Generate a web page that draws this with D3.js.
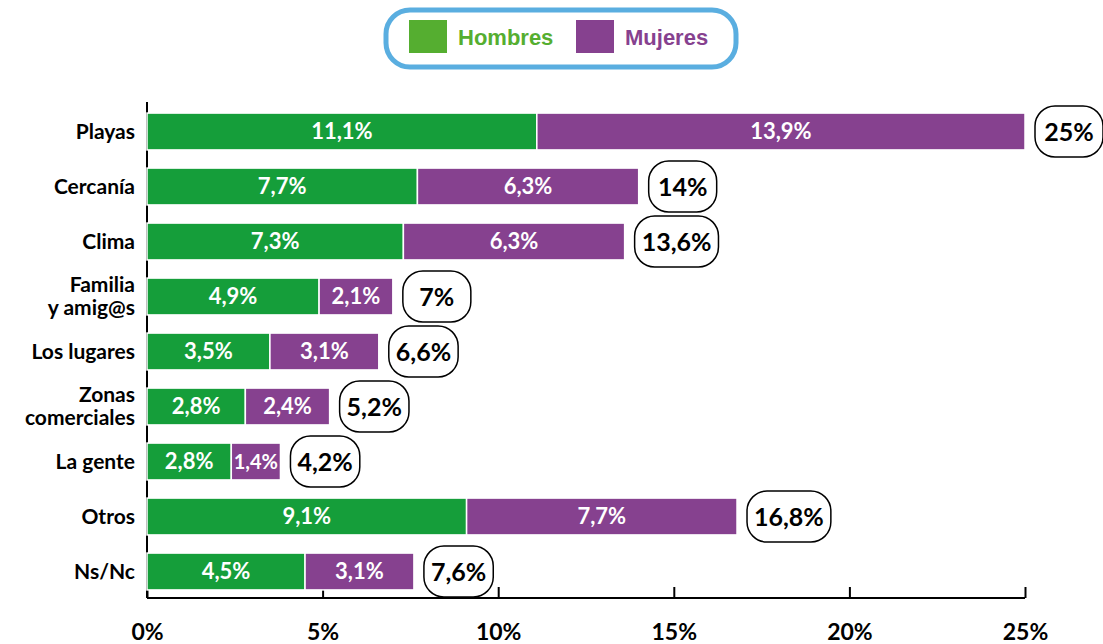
<!DOCTYPE html>
<html><head><meta charset="utf-8">
<script src="https://cdn.jsdelivr.net/npm/d3@7"></script>
<style>body{margin:0;background:#fff}svg{display:block}</style>
</head><body>
<svg id="chart" width="1103" height="644"></svg>
<script>
const categories = ["Playas","Cercanía","Clima","Familia\ny amig@s","Los lugares","Zonas\ncomerciales","La gente","Otros","Ns/Nc"];
// bar lengths as drawn in the picture
const hombres = [11.1,7.7,7.3,4.9,3.5,2.8,2.4,9.1,4.5];
const mujeres = [13.9,6.3,6.3,2.1,3.1,2.4,1.4,7.7,3.1];
// printed value labels
const hombresLabels = ["11,1%","7,7%","7,3%","4,9%","3,5%","2,8%","2,8%","9,1%","4,5%"];
const mujeresLabels = ["13,9%","6,3%","6,3%","2,1%","3,1%","2,4%","1,4%","7,7%","3,1%"];
const totals = ["25%","14%","13,6%","7%","6,6%","5,2%","4,2%","16,8%","7,6%"];
const xTicks = [0,5,10,15,20,25];
const seriesNames = ["Hombres","Mujeres"];

const svg = d3.select("#chart");
const FONT = "Lato, 'Open Sans', sans-serif";
const barGreen = "#159E3A", barPurple = "#86418F", legGreen = "#55AE30";

const x = d3.scaleLinear().domain([0,25]).range([147,1025]);
const y = d3.scaleBand().domain(categories).range([104,599]).paddingInner(0.33).paddingOuter(0.165);

// y axis line (behind bars)
svg.append("line").attr("x1",x(0)).attr("x2",x(0)).attr("y1",102).attr("y2",598)
  .attr("stroke","#000").attr("stroke-width",2);

// x axis
const xAxis = d3.axisBottom(x).tickValues(xTicks).tickSize(-11).tickPadding(0).tickFormat(d=>d+"%");
const gx = svg.append("g").attr("transform","translate(0,598)").call(xAxis);
gx.select(".domain").attr("stroke","#000").attr("stroke-width",2).attr("d",`M${x(0)},0H${x(25)}`);
gx.selectAll(".tick line").attr("stroke","#000").attr("stroke-width",2);
gx.selectAll(".tick text").attr("y",34).attr("dy","0.35em").attr("font-family",FONT)
  .attr("font-weight","bold").attr("font-size",23).attr("fill","#000");

function fitText(t, maxW, size){
  let s = size;
  t.attr("font-size", s);
  while (t.node().getComputedTextLength() > maxW && s > 10){ s -= 0.5; t.attr("font-size", s); }
}

// bars
const rows = categories.map((c,i)=>({c,h:hombres[i],m:mujeres[i],hl:hombresLabels[i],ml:mujeresLabels[i],t:totals[i]}));
const g = svg.append("g");
rows.forEach(r=>{
  const yy = y(r.c), bh = y.bandwidth();
  g.append("rect").attr("x",x(0)).attr("y",yy).attr("width",x(r.h)-x(0)).attr("height",bh)
    .attr("fill",barGreen).attr("stroke","#fff").attr("stroke-width",1.5);
  g.append("rect").attr("x",x(r.h)).attr("y",yy).attr("width",x(r.h+r.m)-x(r.h)).attr("height",bh)
    .attr("fill",barPurple).attr("stroke","#fff").attr("stroke-width",1.5);
  const ht = g.append("text").attr("x",(x(0)+x(r.h))/2).attr("y",yy+bh/2).attr("dy","0.36em")
    .attr("text-anchor","middle").attr("fill","#fff").attr("font-family",FONT).attr("font-weight","bold").text(r.hl);
  fitText(ht, x(r.h)-x(0)-4, 22);
  const mt = g.append("text").attr("x",(x(r.h)+x(r.h+r.m))/2).attr("y",yy+bh/2).attr("dy","0.36em")
    .attr("text-anchor","middle").attr("fill","#fff").attr("font-family",FONT).attr("font-weight","bold").text(r.ml);
  fitText(mt, x(r.h+r.m)-x(r.h)-4, 22);
  // total bubble
  const t = g.append("text").attr("y",yy+bh/2).attr("dy","0.36em").attr("text-anchor","middle")
    .attr("fill","#000").attr("font-family",FONT).attr("font-weight","bold").attr("font-size",25).text(r.t);
  const tw = t.node().getComputedTextLength();
  const bw = Math.max(68, tw+14), bhh = 51;
  const bx = x(r.h+r.m)+10;
  g.insert("rect", () => t.node()).attr("x",bx).attr("y",yy+bh/2-bhh/2).attr("width",bw).attr("height",bhh)
    .attr("rx",20).attr("ry",20).attr("fill","#fff").attr("stroke","#000").attr("stroke-width",1.5);
  t.attr("x",bx+bw/2);
  // category label
  const lines = r.c.split("\n");
  const lt = svg.append("text").attr("x",135).attr("text-anchor","end").attr("font-family",FONT)
    .attr("font-weight","bold").attr("font-size",21).attr("fill","#000");
  lines.forEach((ln,k)=>{
    lt.append("tspan").attr("x",135).attr("y",yy+bh/2 + (k-(lines.length-1)/2)*23).attr("dy","0.34em").text(ln);
  });
});

// legend
const lg = svg.append("g");
lg.append("rect").attr("x",386).attr("y",10).attr("width",350).attr("height",57).attr("rx",24)
  .attr("fill","#fff").attr("stroke","#5AAEE0").attr("stroke-width",5);
const legColors = [legGreen, barPurple];
const legX = [409, 576];
seriesNames.forEach((n,i)=>{
  lg.append("rect").attr("x",legX[i]).attr("y",20).attr("width",38).attr("height",33).attr("fill",legColors[i]);
  lg.append("text").attr("x",legX[i]+49).attr("y",37).attr("dy","0.36em").attr("fill",legColors[i])
    .attr("font-family","'Liberation Sans', Arial, sans-serif").attr("font-weight","bold").attr("font-size",22).text(n);
});
</script>
</body></html>
